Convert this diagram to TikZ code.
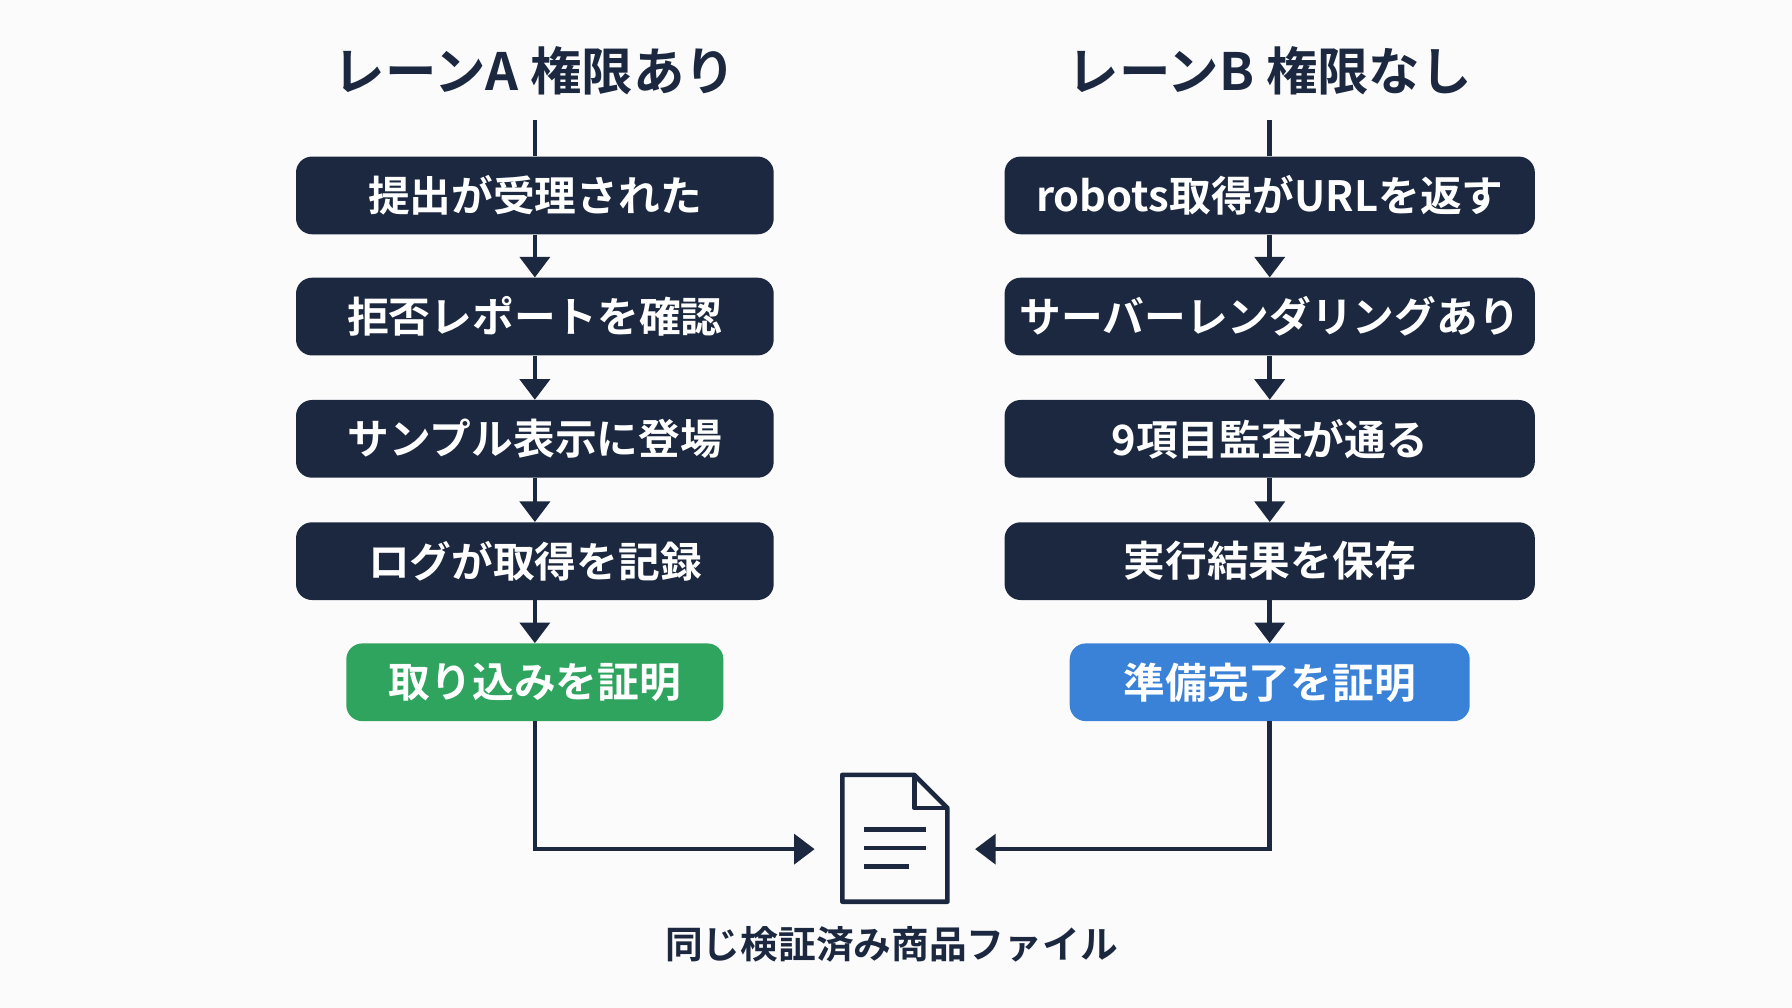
\documentclass[tikz,border=0pt]{standalone}
\usepackage{fontspec}
\setmainfont{Noto Sans CJK JP}[BoldFont={* Bold}]
\usetikzlibrary{arrows.meta}
\definecolor{navy}{HTML}{1B2840}
\definecolor{grn}{HTML}{2FA45E}
\definecolor{blu}{HTML}{3A82D8}
\begin{document}
\begin{tikzpicture}[x=1pt,y=-1pt,
 box/.style={rounded corners=14pt,fill=navy,text=white,minimum height=68pt,font=\bfseries\fontsize{36.5}{40}\selectfont,inner sep=0pt},
 ttl/.style={text=navy,font=\bfseries\fontsize{45}{50}\selectfont},
 arr/.style={draw=navy,line width=4pt,-{Triangle[length=18pt,width=26pt]}},
 ln/.style={draw=navy,line width=4pt}]
\fill[white!97!gray] (0,0) rectangle (1568,882);
\useasboundingbox (0,0) rectangle (1568,882);
\node[ttl] (ta) at (468,62) {レーンA 権限あり};
\node[ttl] (tb) at (1111,62) {レーンB 権限なし};
\node[box,minimum width=418pt] (a1) at (468,171) {提出が受理された};
\node[box,minimum width=418pt] (a2) at (468,277) {拒否レポートを確認};
\node[box,minimum width=418pt] (a3) at (468,384) {サンプル表示に登場};
\node[box,minimum width=418pt] (a4) at (468,491) {ログが取得を記録};
\node[box,minimum width=330pt,fill=grn] (a5) at (468,597) {取り込みを証明};
\node[box,minimum width=464pt] (b1) at (1111,171) {robots取得がURLを返す};
\node[box,minimum width=464pt] (b2) at (1111,277) {サーバーレンダリングあり};
\node[box,minimum width=464pt] (b3) at (1111,384) {9項目監査が通る};
\node[box,minimum width=464pt] (b4) at (1111,491) {実行結果を保存};
\node[box,minimum width=350pt,fill=blu] (b5) at (1111,597) {準備完了を証明};
\coordinate (sa) at (468,105);
\coordinate (sb) at (1111,105);
\draw[ln] (sa) -- (a1.north);
\draw[ln] (sb) -- (b1.north);
\foreach \p/\q in {a1/a2,a2/a3,a3/a4,a4/a5,b1/b2,b2/b3,b3/b4,b4/b5}
  \draw[arr] (\p.south) -- (\q.north);
% document icon
\node[minimum width=140pt,minimum height=114pt,inner sep=0pt] (doc) at (783,743) {};
\draw[navy,line width=4pt,line join=round] (737,678) -- (800,678) -- (829,707) -- (829,789) -- (737,789) -- cycle;
\draw[navy,line width=4pt,line join=round] (800,678) -- (800,707) -- (829,707);
\draw[navy,line width=4pt] (756,726) -- (810,726) (756,742) -- (810,742) (756,758) -- (795,758);
\coordinate (ca) at (468,743);
\coordinate (cb) at (1111,743);
\draw[arr] (a5.south) -- (ca) -- (doc.west);
\draw[arr] (b5.south) -- (cb) -- (doc.east);
\node[text=navy,font=\bfseries\fontsize{33}{36}\selectfont] (lbl) at (780,826) {同じ検証済み商品ファイル};
\end{tikzpicture}
\end{document}
